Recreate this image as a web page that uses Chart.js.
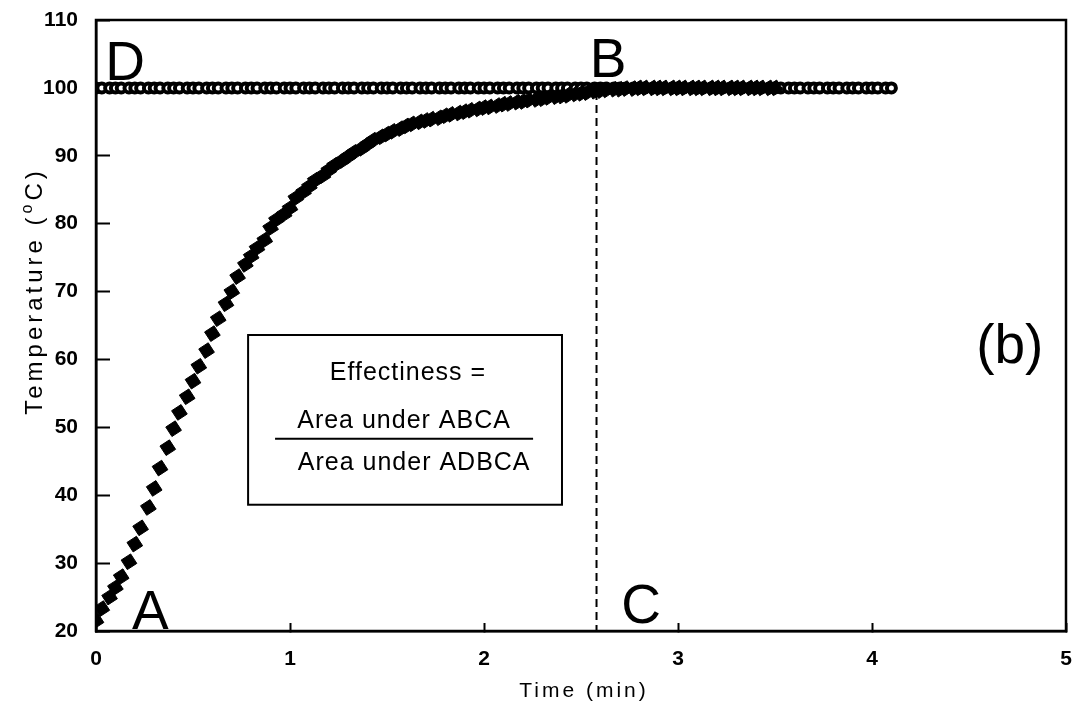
<!DOCTYPE html>
<html>
<head>
<meta charset="utf-8">
<script src="https://cdn.jsdelivr.net/npm/chart.js@4"></script>
<style>
  html, body { margin: 0; padding: 0; background: #fff; }
  #wrap { width: 1079px; height: 708px; position: relative; }
</style>
</head>
<body>
<div id="wrap"><canvas id="temp-chart"></canvas></div>
<script>
// sampling times (min), shared by both series
const time = [
  0, 0.03, 0.07, 0.1, 0.13, 0.17, 0.2, 0.23, 0.27, 0.3,
  0.33, 0.37, 0.4, 0.43, 0.47, 0.5, 0.53, 0.57, 0.6, 0.63,
  0.67, 0.7, 0.73, 0.77, 0.8, 0.83, 0.87, 0.9, 0.93, 0.97,
  1, 1.03, 1.07, 1.1, 1.13, 1.17, 1.2, 1.23, 1.27, 1.3,
  1.33, 1.37, 1.4, 1.43, 1.47, 1.5, 1.53, 1.57, 1.6, 1.63,
  1.67, 1.7, 1.73, 1.77, 1.8, 1.83, 1.87, 1.9, 1.93, 1.97,
  2, 2.03, 2.07, 2.1, 2.13, 2.17, 2.2, 2.23, 2.27, 2.3,
  2.33, 2.37, 2.4, 2.43, 2.47, 2.5, 2.53, 2.57, 2.6, 2.63,
  2.67, 2.7, 2.73, 2.77, 2.8, 2.83, 2.87, 2.9, 2.93, 2.97,
  3, 3.03, 3.07, 3.1, 3.13, 3.17, 3.2, 3.23, 3.27, 3.3,
  3.33, 3.37, 3.4, 3.43, 3.47, 3.5, 3.53, 3.57, 3.6, 3.63,
  3.67, 3.7, 3.73, 3.77, 3.8, 3.83, 3.87, 3.9, 3.93, 3.97,
  4, 4.03, 4.07, 4.1
];

// measured heating curve (deg C), up to 3.5 min
const curveTemp = [
  21.5, 23.3, 25.0, 26.4, 28.0, 30.2, 32.8, 35.2, 38.2, 41.0,
  44.0, 47.0, 49.8, 52.2, 54.5, 56.8, 59.0, 61.3, 63.8, 66.0,
  68.2, 70.0, 72.2, 74.0, 75.2, 76.4, 77.6, 79.4, 80.6, 81.4,
  82.3, 83.8, 84.7, 85.5, 86.4, 87.1, 87.9, 88.6, 89.3, 89.9,
  90.5, 91.1, 91.7, 92.3, 92.8, 93.2, 93.6, 94.0, 94.4, 94.7,
  95.0, 95.2, 95.4, 95.6, 95.9, 96.1, 96.3, 96.5, 96.7, 96.9,
  97.1, 97.2, 97.4, 97.6, 97.7, 97.9, 98.0, 98.2, 98.3, 98.4,
  98.6, 98.7, 98.8, 98.9, 99.1, 99.2, 99.3, 99.5, 99.6, 99.7,
  99.8, 99.8, 99.9, 99.9, 100, 100, 100, 100, 100, 100,
  100, 100, 100, 100, 100, 100, 100, 100, 100, 100,
  100, 100, 100, 100, 100, 100
];

// ideal (instant) heating at 100 deg C
const idealTemp = [
  100, 100, 100, 100, 100, 100, 100, 100, 100, 100,
  100, 100, 100, 100, 100, 100, 100, 100, 100, 100,
  100, 100, 100, 100, 100, 100, 100, 100, 100, 100,
  100, 100, 100, 100, 100, 100, 100, 100, 100, 100,
  100, 100, 100, 100, 100, 100, 100, 100, 100, 100,
  100, 100, 100, 100, 100, 100, 100, 100, 100, 100,
  100, 100, 100, 100, 100, 100, 100, 100, 100, 100,
  100, 100, 100, 100, 100, 100, 100, 100, 100, 100,
  100, 100, 100, 100, 100, 100, 100, 100, 100, 100,
  100, 100, 100, 100, 100, 100, 100, 100, 100, 100,
  100, 100, 100, 100, 100, 100, 100, 100, 100, 100,
  100, 100, 100, 100, 100, 100, 100, 100, 100, 100,
  100, 100, 100, 100
];

// B-C drop line
const cutTime = [2.58, 2.58];
const cutTemp = [99.4, 20];

const xTicks = [0, 1, 2, 3, 4, 5];
const yTicks = [20, 30, 40, 50, 60, 70, 80, 90, 100, 110];

// corner letters, placed in data units (t, temp = baseline)
const letters = [
  { text: 'A', t: 0.28, temp: 20.3 },
  { text: 'B', t: 2.64, temp: 101.6 },
  { text: 'C', t: 2.81, temp: 21.2 },
  { text: 'D', t: 0.15, temp: 101.1 }
];

const FONT = "'Liberation Sans', Arial, Helvetica, sans-serif";

const toPoints = (xs, ys) => ys.map((y, i) => ({ x: xs[i], y: y }));

const annotations = {
  id: 'annotations',
  afterDraw(chart) {
    const ctx = chart.ctx;
    const xs = chart.scales.x;
    const ys = chart.scales.y;
    const area = chart.chartArea;
    const px = (t) => xs.getPixelForValue(t);
    const py = (v) => ys.getPixelForValue(v);

    ctx.save();
    ctx.fillStyle = '#000';
    ctx.strokeStyle = '#000';

    // frame
    ctx.lineWidth = 2.5;
    ctx.strokeRect(area.left, area.top, area.right - area.left, area.bottom - area.top);

    // letters
    ctx.font = '55px ' + FONT;
    ctx.textAlign = 'center';
    ctx.textBaseline = 'alphabetic';
    letters.forEach((l) => ctx.fillText(l.text, px(l.t), py(l.temp)));
    ctx.fillText('(b)', px(4.71), py(59.5));

    // effectiveness box
    ctx.lineWidth = 2;
    const bx1 = px(0.784), bx2 = px(2.402), by1 = py(63.6), by2 = py(38.6);
    ctx.strokeRect(bx1, by1, bx2 - bx1, by2 - by1);
    ctx.font = '25px ' + FONT;
    ctx.letterSpacing = '1px';
    ctx.fillText('Effectiness =', px(1.608), py(57.0));
    ctx.fillText('Area under ABCA', px(1.588), py(49.9));
    ctx.fillText('Area under ADBCA', px(1.64), py(43.7));
    ctx.beginPath();
    ctx.moveTo(px(0.923), py(48.3));
    ctx.lineTo(px(2.253), py(48.3));
    ctx.stroke();

    // axis titles
    ctx.font = '21px ' + FONT;
    ctx.letterSpacing = '3px';
    ctx.fillText('Time (min)', 584, 697);

    ctx.translate(42, 291);
    ctx.rotate(-Math.PI / 2);
    ctx.textAlign = 'left';
    ctx.letterSpacing = '4px';
    const main = 'Temperature (';
    ctx.font = '24px ' + FONT;
    const w1 = ctx.measureText(main).width;
    ctx.font = '16px ' + FONT;
    const w2 = ctx.measureText('o').width;
    ctx.font = '24px ' + FONT;
    const w3 = ctx.measureText('C)').width;
    let x0 = -(w1 + w2 + w3) / 2;
    ctx.fillText(main, x0, 0);
    ctx.font = '16px ' + FONT;
    ctx.fillText('o', x0 + w1, -10);
    ctx.font = '24px ' + FONT;
    ctx.fillText('C)', x0 + w1 + w2, 0);
    ctx.restore();
  }
};

const ctx = document.getElementById('temp-chart').getContext('2d');
const tempChart = new Chart(ctx, {
  type: 'scatter',
  data: {
    datasets: [
      {
        label: 'Measured',
        data: toPoints(time, curveTemp),
        pointStyle: 'rectRot',
        pointRadius: 8,
        pointRotation: 12,
        pointBackgroundColor: '#000',
        pointBorderColor: '#000',
        pointBorderWidth: 1,
        showLine: false
      },
      {
        label: 'Cut',
        data: toPoints(cutTime, cutTemp),
        showLine: true,
        borderColor: '#000',
        borderWidth: 2,
        borderDash: [8, 5],
        pointRadius: 0
      },
      {
        label: 'Ideal',
        data: toPoints(time, idealTemp),
        pointStyle: 'circle',
        pointRadius: 4.5,
        pointBackgroundColor: '#fff',
        pointBorderColor: '#000',
        pointBorderWidth: 4,
        showLine: false
      }
    ]
  },
  options: {
    responsive: true,
    maintainAspectRatio: false,
    animation: false,
    layout: { padding: { left: 0, right: 13, top: 20, bottom: 0 } },
    plugins: {
      legend: { display: false },
      tooltip: { enabled: false }
    },
    scales: {
      x: {
        type: 'linear',
        min: 0,
        max: 5,
        afterFit: (s) => { s.height = 77; s.paddingLeft = 0; s.paddingRight = 0; },
        afterBuildTicks: (s) => { s.ticks = xTicks.map((v) => ({ value: v })); },
        ticks: {
          color: '#000',
          padding: 24,
          font: { family: FONT, size: 21, weight: 'bold' }
        },
        grid: { drawOnChartArea: false, tickLength: -8, tickWidth: 2, tickColor: '#000' },
        border: { color: '#000', width: 2.5 }
      },
      y: {
        min: 20,
        max: 110,
        afterFit: (s) => { s.width = 96; s.paddingTop = 0; s.paddingBottom = 0; },
        afterBuildTicks: (s) => { s.ticks = yTicks.map((v) => ({ value: v })); },
        ticks: {
          color: '#000',
          padding: 32,
          font: { family: FONT, size: 21, weight: 'bold' }
        },
        grid: { drawOnChartArea: false, tickLength: -14, tickWidth: 2, tickColor: '#000' },
        border: { color: '#000', width: 2.5 }
      }
    }
  },
  plugins: [annotations]
});
</script>
</body>
</html>
